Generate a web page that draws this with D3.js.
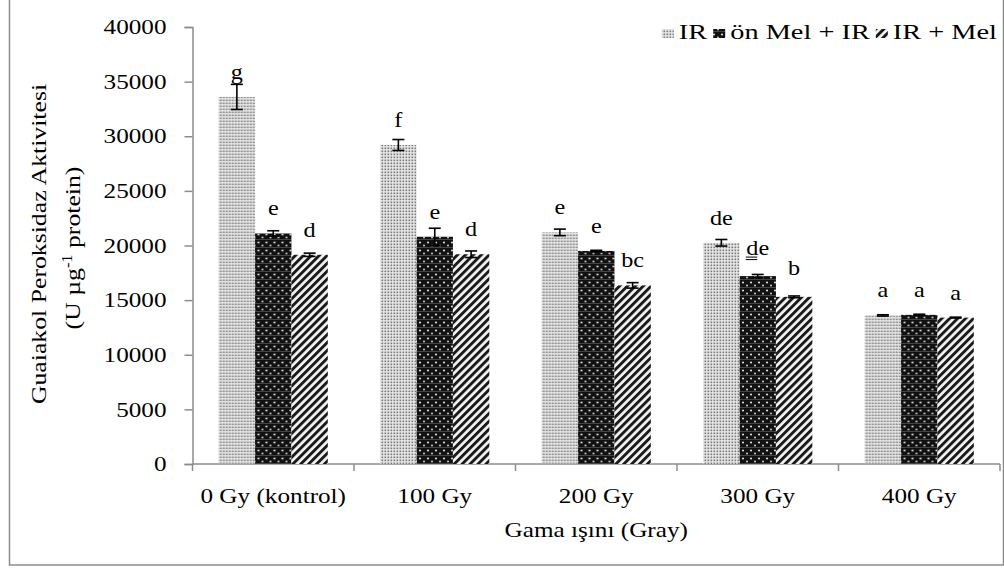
<!DOCTYPE html>
<html>
<head>
<meta charset="utf-8">
<script src="https://cdn.jsdelivr.net/npm/d3@7"></script>
<style>
  html, body { margin: 0; padding: 0; background: #fff; }
  svg { display: block; }
  text { font-family: "Liberation Serif", "Times New Roman", serif; fill: #000; }
</style>
</head>
<body>
<svg id="chart" width="1004" height="569"></svg>
<script>
// Dose groups and treatments
const doses = ["0 Gy (kontrol)", "100 Gy", "200 Gy", "300 Gy", "400 Gy"];
const treatments = ["IR", "ön Mel + IR", "IR + Mel"];

// Guaiacol peroxidase activity (U µg-1 protein), mean per dose
const irValues      = [33600, 29200, 21200, 20250, 13600];
const preMelValues  = [21100, 20800, 19500, 17200, 13650];
const postMelValues = [19150, 19200, 16350, 15300, 13400];

// Standard errors
const irErrors      = [1150, 500, 300, 300, 60];
const preMelErrors  = [250, 780, 60, 150, 60];
const postMelErrors = [150, 300, 250, 80, 40];

// Significance letters
const irLetters      = ["g", "f", "e", "de", "a"];
const preMelLetters  = ["e", "e", "e", "de", "a"];
const postMelLetters = ["d", "d", "bc", "b", "a"];

const yTicks = [0, 5000, 10000, 15000, 20000, 25000, 30000, 35000, 40000];

const seriesValues  = [irValues, preMelValues, postMelValues];
const seriesErrors  = [irErrors, preMelErrors, postMelErrors];
const seriesLetters = [irLetters, preMelLetters, postMelLetters];

const svg = d3.select("#chart");
const plot = { left: 192.5, right: 1000, top: 27, bottom: 464 };
const FS = 21;      // base font size
const WIDE = 1.2;   // horizontal glyph widening

// widen text along its baseline, keeping the anchor point in place
function widen(sel, k) {
  sel.each(function () {
    const x = +this.getAttribute("x") || 0;
    const t = this.getAttribute("transform") || "";
    this.setAttribute("x", x / k);
    this.setAttribute("transform", `${t} scale(${k},1)`);
  });
}

// ---- fill patterns ----
const defs = svg.append("defs");

// light stipple
const p0 = defs.append("pattern").attr("id", "pat-ir")
  .attr("patternUnits", "userSpaceOnUse").attr("width", 3).attr("height", 3);
p0.append("rect").attr("width", 3).attr("height", 3).attr("fill", "#ececec");
p0.append("rect").attr("x", 0.5).attr("y", 0.5).attr("width", 1.7).attr("height", 1.7).attr("fill", "#7a7a7a");

// dark with light dots
const p1 = defs.append("pattern").attr("id", "pat-pre")
  .attr("patternUnits", "userSpaceOnUse").attr("width", 8).attr("height", 8);
p1.append("rect").attr("width", 8).attr("height", 8).attr("fill", "#111");
p1.append("rect").attr("x", 0).attr("y", 7).attr("width", 8).attr("height", 0.6).attr("fill", "#666");
p1.append("circle").attr("cx", 2).attr("cy", 2.5).attr("r", 1.1).attr("fill", "#d8d8d8");
p1.append("circle").attr("cx", 6).attr("cy", 5.5).attr("r", 1.1).attr("fill", "#bcbcbc");

// diagonal stripes
const p2 = defs.append("pattern").attr("id", "pat-post")
  .attr("patternUnits", "userSpaceOnUse").attr("width", 5.6).attr("height", 5.6)
  .attr("patternTransform", "rotate(45)");
p2.append("rect").attr("width", 5.6).attr("height", 5.6).attr("fill", "#f4f4f4");
p2.append("rect").attr("x", 0).attr("y", 0).attr("width", 2.9).attr("height", 5.6).attr("fill", "#1a1a1a");

const fills = ["url(#pat-ir)", "url(#pat-pre)", "url(#pat-post)"];

// ---- outer frame ----
svg.append("rect")
  .attr("x", 9.5).attr("y", -2).attr("width", 994).attr("height", 567)
  .attr("fill", "none").attr("stroke", "#8c8c8c").attr("stroke-width", 1.5);

// ---- scales ----
const y = d3.scaleLinear().domain([0, 40000]).range([plot.bottom, plot.top]);
const x0 = d3.scaleBand().domain(doses).range([plot.left, plot.right]).paddingInner(0).paddingOuter(0);
const x1 = d3.scaleBand().domain(treatments).range([0, x0.bandwidth()]).paddingInner(0).paddingOuter(0.72);

// ---- y axis ----
const yAxis = svg.append("g").attr("transform", `translate(${plot.left},0)`)
  .call(d3.axisLeft(y).tickValues(yTicks).tickSize(8).tickPadding(18).tickFormat(d3.format("d")));
yAxis.select(".domain").attr("stroke", "#8c8c8c").attr("stroke-width", 1.5);
yAxis.selectAll(".tick line").attr("stroke", "#8c8c8c").attr("stroke-width", 1.5);
yAxis.selectAll(".tick text").attr("font-size", FS).attr("font-family", "Liberation Serif").attr("fill", "#000");
widen(yAxis.selectAll(".tick text"), WIDE);

// ---- x axis ----
const xAxisG = svg.append("g").attr("transform", `translate(0,${plot.bottom})`);
xAxisG.append("line").attr("x1", plot.left).attr("x2", plot.right)
  .attr("stroke", "#8c8c8c").attr("stroke-width", 1.5);
const bounds = doses.map(d => x0(d)).concat([x0(doses[doses.length - 1]) + x0.bandwidth()]);
xAxisG.selectAll("line.tk").data(bounds).join("line").attr("class", "tk")
  .attr("x1", d => d).attr("x2", d => d).attr("y1", 0).attr("y2", 7)
  .attr("stroke", "#8c8c8c").attr("stroke-width", 1.5);
const xLabels = xAxisG.selectAll("text.xl").data(doses).join("text").attr("class", "xl")
  .attr("x", d => x0(d) + x0.bandwidth() / 2).attr("y", 39)
  .attr("text-anchor", "middle").attr("font-size", FS).text(d => d);
widen(xLabels, WIDE);

// ---- bars ----
const groups = svg.append("g").selectAll("g").data(doses).join("g")
  .attr("transform", d => `translate(${x0(d)},0)`);

treatments.forEach((t, si) => {
  groups.append("rect")
    .attr("x", x1(t)).attr("width", x1.bandwidth())
    .attr("y", (d, i) => y(seriesValues[si][i]))
    .attr("height", (d, i) => y(0) - y(seriesValues[si][i]))
    .attr("fill", fills[si]);
});

// ---- error bars ----
const cap = 6;
treatments.forEach((t, si) => {
  const cx = x1(t) + x1.bandwidth() / 2;
  const hi = i => y(seriesValues[si][i] + seriesErrors[si][i]);
  const lo = i => y(seriesValues[si][i] - seriesErrors[si][i]);
  const eb = groups.append("g").attr("stroke", "#000").attr("stroke-width", 1.6);
  eb.append("line").attr("x1", cx).attr("x2", cx)
    .attr("y1", (d, i) => hi(i)).attr("y2", (d, i) => lo(i));
  eb.append("line").attr("x1", cx - cap).attr("x2", cx + cap)
    .attr("y1", (d, i) => hi(i)).attr("y2", (d, i) => hi(i));
  eb.append("line").attr("x1", cx - cap).attr("x2", cx + cap)
    .attr("y1", (d, i) => lo(i)).attr("y2", (d, i) => lo(i));
});

// ---- letters above bars ----
// the two lower 300 Gy letters sit a little higher than the rest
const lift = (si, i) => 18 + (i === 3 && si > 0 ? 3.5 : 0);
treatments.forEach((t, si) => {
  const cx = x1(t) + x1.bandwidth() / 2;
  const lt = groups.append("text")
    .attr("x", cx).attr("y", (d, i) => y(seriesValues[si][i]) - lift(si, i))
    .attr("text-anchor", "middle").attr("font-size", 22)
    .text((d, i) => seriesLetters[si][i]);
  widen(lt, 1.1);
});

// double underline under the "d" of the 300 Gy pre-treatment letter
{
  const i = 3, si = 1;
  const cx = x0(doses[i]) + x1(treatments[si]) + x1.bandwidth() / 2;
  const by = y(seriesValues[si][i]) - lift(si, i);
  const g = svg.append("g").attr("stroke", "#000").attr("stroke-width", 1);
  [2.5, 5].forEach(off => {
    g.append("line").attr("x1", cx - 12).attr("x2", cx - 0.5)
      .attr("y1", by + off).attr("y2", by + off);
  });
}

// ---- axis titles ----
const xt = svg.append("text").attr("x", (plot.left + plot.right) / 2).attr("y", 537)
  .attr("text-anchor", "middle").attr("font-size", FS).text("Gama ışını (Gray)");
widen(xt, WIDE);

const yt1 = svg.append("text").attr("transform", "translate(46,244) rotate(-90)")
  .attr("text-anchor", "middle").attr("font-size", 22).text("Guaiakol Peroksidaz Aktivitesi");
widen(yt1, 1.17);
const yt2 = svg.append("text").attr("transform", "translate(80,248) rotate(-90)")
  .attr("text-anchor", "middle").attr("font-size", 22);
yt2.append("tspan").text("(U µg");
yt2.append("tspan").attr("font-size", 14).attr("dy", -8).text("-1");
yt2.append("tspan").attr("dy", 8).text(" protein)");
widen(yt2, 1.17);

// ---- legend (right aligned) ----
const LW = 1.35;
const legend = svg.append("g");
let lx = 997;
for (let si = treatments.length - 1; si >= 0; si--) {
  const tx = legend.append("text").attr("y", 39).attr("font-size", FS)
    .attr("text-anchor", "end").attr("x", lx).text(treatments[si]);
  const len = tx.node().getComputedTextLength() * LW;
  widen(tx, LW);
  const sx = lx - len - 5 - 12;
  legend.append("rect").attr("x", sx).attr("y", 29).attr("width", 12).attr("height", 9)
    .attr("fill", fills[si]);
  lx = sx - 6;
}
</script>
</body>
</html>
